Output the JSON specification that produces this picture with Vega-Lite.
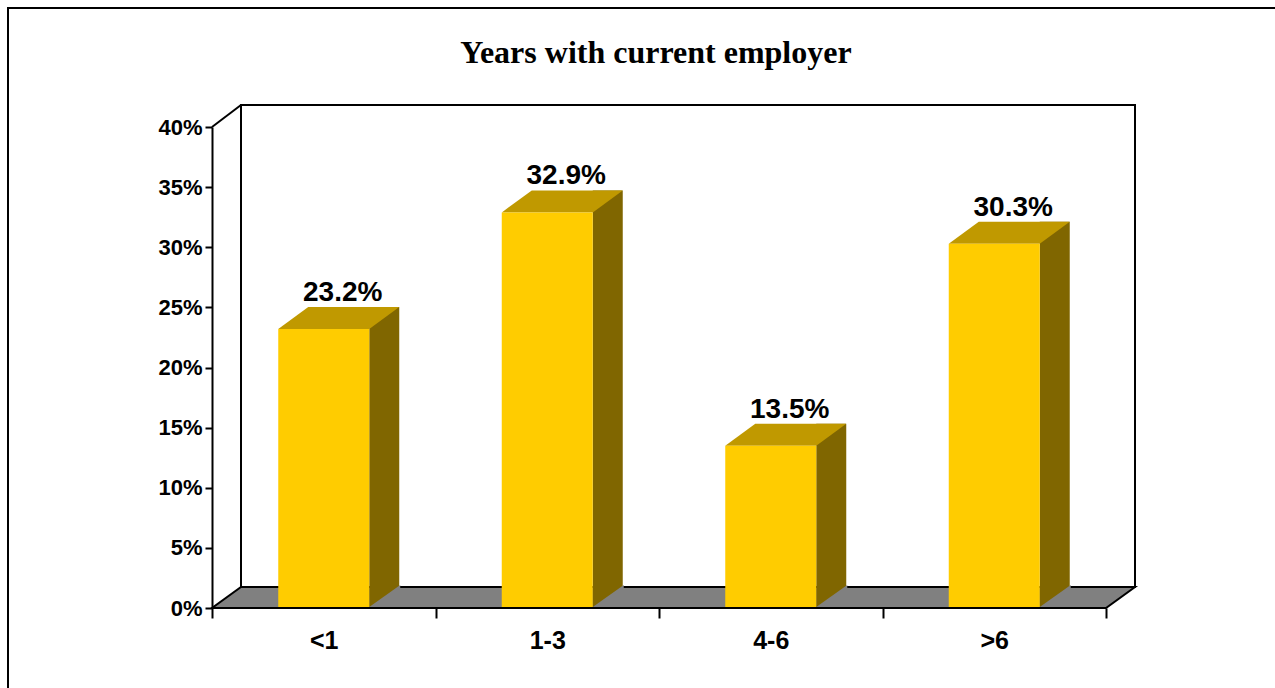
{
  "$schema": "https://vega.github.io/schema/vega-lite/v6.json",
  "width": 894,
  "height": 481,
  "autosize": {"type": "none"},
  "padding": {"left": 212, "top": 127, "right": 169, "bottom": 80},
  "background": "white",
  "config": {"view": {"stroke": null}, "font": "Liberation Sans"},
  "title": {
    "text": "Years with current employer",
    "font": "Liberation Serif",
    "fontSize": 32,
    "fontWeight": "bold",
    "color": "black",
    "anchor": "middle",
    "offset": -66,
    "dx": -3
  },
  "layer": [
    {
      "data": {"values": [{}]},
      "layer": [
        {
          "mark": {"type": "point", "shape": "M -651,-600 L 640,-600 L 640,100 L -651,100 Z", "size": 4, "filled": false, "stroke": "black", "strokeWidth": 2, "opacity": 1},
          "encoding": {"y": {"datum": 0, "type": "quantitative", "title": null}}
        },
        {
          "mark": {"type": "point", "shape": "M -418,-503 L 476,-503 L 476,-21 L -418,-21 Z", "size": 4, "filled": true, "fill": "white", "stroke": "black", "strokeWidth": 2, "opacity": 1},
          "encoding": {"y": {"datum": 0, "type": "quantitative", "title": null}}
        },
        {
          "mark": {"type": "point", "shape": "M -447,-481 L -418,-503", "size": 4, "filled": false, "stroke": "black", "strokeWidth": 2, "opacity": 1},
          "encoding": {"y": {"datum": 0, "type": "quantitative", "title": null}}
        },
        {
          "mark": {"type": "point", "shape": "M -447,0 L 447,0 L 476,-21 L -418,-21 Z", "size": 4, "filled": true, "fill": "#808080", "stroke": "black", "strokeWidth": 2, "opacity": 1},
          "encoding": {"y": {"datum": 0, "type": "quantitative", "title": null}}
        }
      ]
    },
    {
      "data": {
        "values": [
          {"years": "<1", "share": 0.232},
          {"years": "1-3", "share": 0.329},
          {"years": "4-6", "share": 0.135},
          {"years": ">6", "share": 0.303}
        ]
      },
      "encoding": {
        "x": {
          "field": "years",
          "type": "nominal",
          "sort": null,
          "title": null,
          "scale": {"paddingInner": 0, "paddingOuter": 0},
          "axis": {
            "domain": false,
            "tickBand": "extent",
            "tickSize": 10,
            "tickWidth": 2,
            "tickColor": "black",
            "labelFontSize": 25,
            "labelFontWeight": "bold",
            "labelColor": "black",
            "labelPadding": 10,
            "labelAngle": 0,
            "grid": false
          }
        },
        "y": {
          "field": "share",
          "type": "quantitative",
          "title": null,
          "scale": {"domain": [0, 0.4], "nice": false, "zero": true},
          "axis": {
            "values": [0, 0.05, 0.1, 0.15, 0.2, 0.25, 0.3, 0.35, 0.4],
            "format": ".0%",
            "domainColor": "black",
            "domainWidth": 2,
            "tickColor": "black",
            "tickWidth": 2,
            "tickSize": 7,
            "labelFontSize": 22,
            "labelFontWeight": "bold",
            "labelColor": "black",
            "labelPadding": 3,
            "grid": false
          }
        }
      },
      "layer": [
        {
          "mark": {"type": "bar", "width": 30, "xOffset": 60.5, "yOffset": -22, "y2Offset": -1, "color": "#806600"},
          "encoding": {"y2": {"datum": 0}}
        },
        {
          "mark": {"type": "point", "shape": "M 45.5,-1 L 76.5,-23 L 76.5,-1 Z", "size": 4, "filled": true, "color": "#808080", "strokeWidth": 0, "opacity": 1},
          "encoding": {"y": {"datum": 0, "type": "quantitative", "title": null}}
        },
        {
          "mark": {"type": "point", "shape": "M -45.5,0 L 45.5,0 L 75.5,-22 L -15.5,-22 Z", "size": 4, "filled": true, "color": "#C09900", "strokeWidth": 0, "opacity": 1}
        },
        {
          "mark": {"type": "bar", "width": 91, "color": "#FFCC00", "y2Offset": -1},
          "encoding": {"y2": {"datum": 0}}
        },
        {
          "mark": {"type": "text", "fontWeight": "bold", "fontSize": 28, "dx": 19, "dy": -28, "baseline": "alphabetic", "color": "black"},
          "encoding": {"text": {"field": "share", "format": ".1%"}}
        }
      ]
    }
  ]
}
